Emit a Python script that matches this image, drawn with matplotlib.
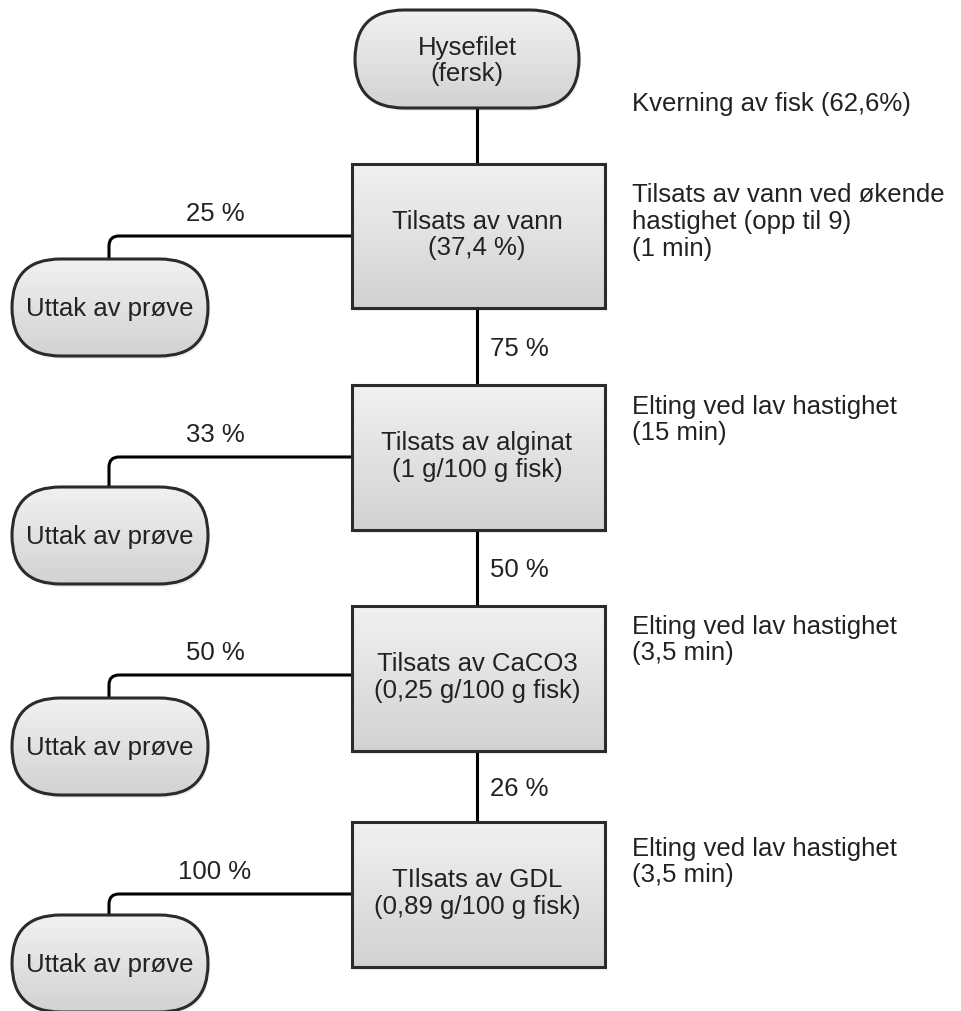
import numpy as np
import matplotlib.pyplot as plt
from matplotlib.patches import FancyBboxPatch, PathPatch
from matplotlib.path import Path

plt.rcParams['font.family'] = ['Liberation Sans', 'DejaVu Sans']

# Process steps (main column)
steps = ['Tilsats av vann\n(37,4 %)',
         'Tilsats av alginat\n(1 g/100 g fisk)',
         'Tilsats av CaCO3\n(0,25 g/100 g fisk)',
         'TIlsats av GDL\n(0,89 g/100 g fisk)']
step_tops = [164, 385, 606, 822]
step_bottoms = [308, 530, 751, 967]
flow_labels = ['75 %', '50 %', '26 %']

# Sample withdrawals (left column)
sample_labels = ['25 %', '33 %', '50 %', '100 %']
sample_text = 'Uttak av prøve'
branch_y = [236, 457, 675, 894]
sample_tops = [259, 487, 698, 915]

# Notes (right column)
notes = ['Kverning av fisk (62,6%)',
         'Tilsats av vann ved økende\nhastighet (opp til 9)\n(1 min)',
         'Elting ved lav hastighet\n(15 min)',
         'Elting ved lav hastighet\n(3,5 min)',
         'Elting ved lav hastighet\n(3,5 min)']
note_y = [104, 222, 420, 640, 862]

start_text = 'Hysefilet\n(fersk)'

W, H = 962, 1011
fig = plt.figure(figsize=(W / 100, H / 100), dpi=100)
ax = fig.add_axes([0, 0, 1, 1])
ax.set_xlim(0, W)
ax.set_ylim(H, 0)
ax.axis('off')

FS = 18.5
grad = np.linspace(0, 1, 256).reshape(-1, 1)
gcmap = plt.matplotlib.colors.LinearSegmentedColormap.from_list('g', ['#f1f1f1', '#d2d2d2'])


def shape(x0, y0, w, h, rounded):
    style = 'round,pad=0,rounding_size=%f' % (h / 2) if rounded else 'square,pad=0'
    # faint shadow
    sh = FancyBboxPatch((x0 + 2, y0 + 3), w, h, boxstyle=style,
                        facecolor='#000000', alpha=0.06, edgecolor='none', zorder=1)
    ax.add_patch(sh)
    p = FancyBboxPatch((x0, y0), w, h, boxstyle=style,
                       facecolor='none', edgecolor='#2b2b2b', linewidth=2.2, zorder=3)
    ax.add_patch(p)
    im = ax.imshow(grad, cmap=gcmap, extent=(x0, x0 + w, y0 + h, y0),
                   aspect='auto', zorder=2, interpolation='bilinear')
    im.set_clip_path(p)


# start terminal
shape(355, 10, 224, 98, True)
ax.text(467, 61, start_text, ha='center', va='center', fontsize=FS,
        linespacing=1.15, color='#222222', zorder=4)

cx = 477
box_x0, box_w = 352, 253
ax.plot([cx, cx], [108, step_tops[0]], color='black', lw=2.2, zorder=1.5)

for i, txt in enumerate(steps):
    t, b = step_tops[i], step_bottoms[i]
    shape(box_x0, t, box_w, b - t, False)
    ax.text(cx, (t + b) / 2 - 1, txt, ha='center', va='center', fontsize=FS,
            linespacing=1.15, color='#222222', zorder=4)
    if i < len(steps) - 1:
        ax.plot([cx, cx], [b, step_tops[i + 1]], color='black', lw=2.2, zorder=1.5)
        ax.text(490, (b + step_tops[i + 1]) / 2 + 2, flow_labels[i], ha='left',
                va='center', fontsize=FS, color='#222222')

# branches to sample terminals
vx, r = 109, 10
for i in range(len(sample_labels)):
    y = branch_y[i]
    verts = [(box_x0, y), (vx + r, y), (vx, y), (vx, y + r), (vx, sample_tops[i])]
    codes = [Path.MOVETO, Path.LINETO, Path.CURVE3, Path.CURVE3, Path.LINETO]
    ax.add_patch(PathPatch(Path(verts, codes), facecolor='none', edgecolor='black',
                           lw=2.2, zorder=1.5))
    ax.text(215, y - 22, sample_labels[i], ha='center', va='center', fontsize=FS,
            color='#222222')
    shape(12, sample_tops[i], 196, 97, True)
    ax.text(110, sample_tops[i] + 50, sample_text, ha='center', va='center',
            fontsize=FS, color='#222222', zorder=4)

for txt, y in zip(notes, note_y):
    ax.text(632, y, txt, ha='left', va='center', fontsize=FS, linespacing=1.15,
            color='#222222')

fig.savefig('out.png', dpi=100, facecolor='white')
